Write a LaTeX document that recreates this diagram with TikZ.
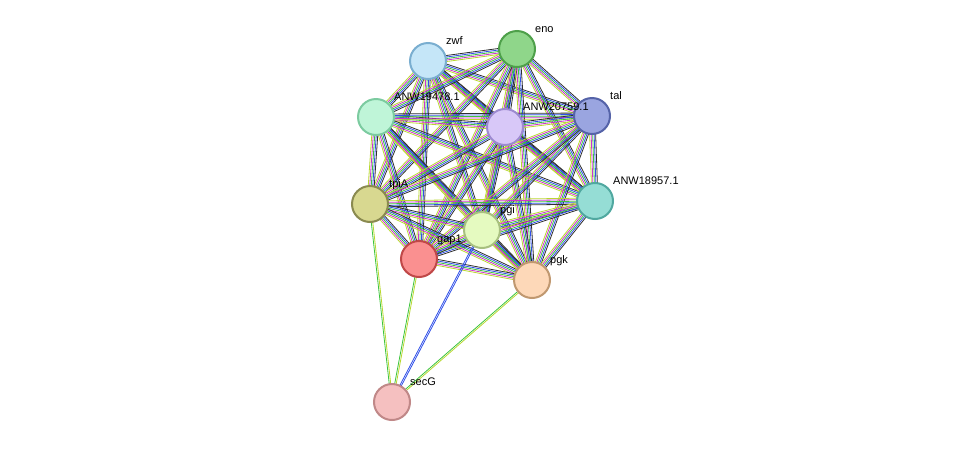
\documentclass[tikz,border=0pt]{standalone}
\usepackage{fontspec}
\setmainfont{Liberation Sans}
\usetikzlibrary{calc}
\definecolor{eg}{HTML}{3CC43C}\definecolor{eb}{HTML}{2F4FE8}\definecolor{em}{HTML}{D030D0}
\definecolor{ey}{HTML}{B8D830}\definecolor{ek}{HTML}{303030}\definecolor{ec}{HTML}{30B0B0}
\tikzset{prot/.style={circle,minimum size=36pt,inner sep=0pt,line width=2pt},
lab/.style={font=\fontsize{11pt}{11pt}\selectfont,inner sep=0pt,anchor=base west}}
\newcommand{\pedge}[3]{\foreach \c [count=\i] in {#3}{%
 \pgfmathsetmacro{\o}{(\i-3)*1.5}%
 \draw[\c,line width=0.8pt] ($(#1)!\o pt!90:(#2)$) -- ($(#2)!\o pt!-90:(#1)$);}}
\newcommand{\tedge}[3]{\foreach \c [count=\i] in {#3}{%
 \pgfmathsetmacro{\o}{(\i-1.5)*1.5}%
 \draw[\c,line width=0.8pt] ($(#1)!\o pt!90:(#2)$) -- ($(#2)!\o pt!-90:(#1)$);}}
\begin{document}
\begin{tikzpicture}[x=1pt,y=-1pt]
\useasboundingbox (0,0) rectangle (975,448);
\coordinate (zwf) at (428,61); \coordinate (eno) at (517,49);
\coordinate (a194) at (376,117); \coordinate (a207) at (505,127);
\coordinate (tal) at (592,116); \coordinate (a189) at (595,201);
\coordinate (tpiA) at (370,204); \coordinate (pgi) at (482,230);
\coordinate (gap1) at (419,259); \coordinate (pgk) at (532,280);
\coordinate (secG) at (392,402);
\foreach \a/\b in {zwf/eno,zwf/a194,zwf/a207,zwf/tal,zwf/a189,zwf/tpiA,zwf/pgi,zwf/gap1,zwf/pgk,
eno/a194,eno/a207,eno/tal,eno/a189,eno/tpiA,eno/pgi,eno/gap1,eno/pgk,
a194/a207,a194/tal,a194/a189,a194/tpiA,a194/pgi,a194/gap1,a194/pgk,
a207/tal,a207/a189,a207/tpiA,a207/pgi,a207/gap1,a207/pgk,
tal/a189,tal/tpiA,tal/pgi,tal/gap1,tal/pgk,
a189/tpiA,a189/pgi,a189/gap1,a189/pgk,
tpiA/pgi,tpiA/gap1,tpiA/pgk,pgi/gap1,pgi/pgk,gap1/pgk}
 {\pedge{\a}{\b}{ey,em,eg,eb,ek}}
\tedge{secG}{tpiA}{ey,eg}
\tedge{secG}{gap1}{ey,eg}
\tedge{secG}{pgi}{eb,eb}
\tedge{secG}{pgk}{ey,eg}
\node[prot,fill={rgb,255:red,197;green,230;blue,248},draw={rgb,255:red,122;green,174;blue,208}] (n1) at (zwf) {};
\node[prot,fill={rgb,255:red,143;green,214;blue,138},draw={rgb,255:red,78;green,160;blue,74}] (n2) at (eno) {};
\node[prot,fill={rgb,255:red,191;green,245;blue,216},draw={rgb,255:red,124;green,203;blue,160}] (n3) at (a194) {};
\node[prot,fill={rgb,255:red,216;green,200;blue,248},draw={rgb,255:red,157;green,138;blue,208}] (n4) at (a207) {};
\node[prot,fill={rgb,255:red,154;green,165;blue,224},draw={rgb,255:red,85;green,99;blue,168}] (n5) at (tal) {};
\node[prot,fill={rgb,255:red,149;green,221;blue,213},draw={rgb,255:red,80;green,168;blue,160}] (n6) at (a189) {};
\node[prot,fill={rgb,255:red,216;green,216;blue,144},draw={rgb,255:red,138;green,138;blue,80}] (n7) at (tpiA) {};
\node[prot,fill={rgb,255:red,229;green,250;blue,192},draw={rgb,255:red,168;green,192;blue,128}] (n8) at (pgi) {};
\node[prot,fill={rgb,255:red,250;green,144;blue,144},draw={rgb,255:red,192;green,72;blue,72}] (n9) at (gap1) {};
\node[prot,fill={rgb,255:red,253;green,216;blue,184},draw={rgb,255:red,192;green,152;blue,112}] (n10) at (pgk) {};
\node[prot,fill={rgb,255:red,245;green,192;blue,192},draw={rgb,255:red,192;green,136;blue,136}] (n11) at (secG) {};
\node[lab] (l1) at (446,44) {zwf};
\node[lab] (l2) at (535,32) {eno};
\node[lab] (l3) at (394,100) {ANW19478.1};
\node[lab] (l4) at (523,110) {ANW20759.1};
\node[lab] (l5) at (610,99) {tal};
\node[lab] (l6) at (613,184) {ANW18957.1};
\node[lab] (l7) at (389,187) {tpiA};
\node[lab] (l8) at (500,213) {pgi};
\node[lab] (l9) at (437,242) {gap1};
\node[lab] (l10) at (550,263) {pgk};
\node[lab] (l11) at (410,385) {secG};
\end{tikzpicture}
\end{document}
